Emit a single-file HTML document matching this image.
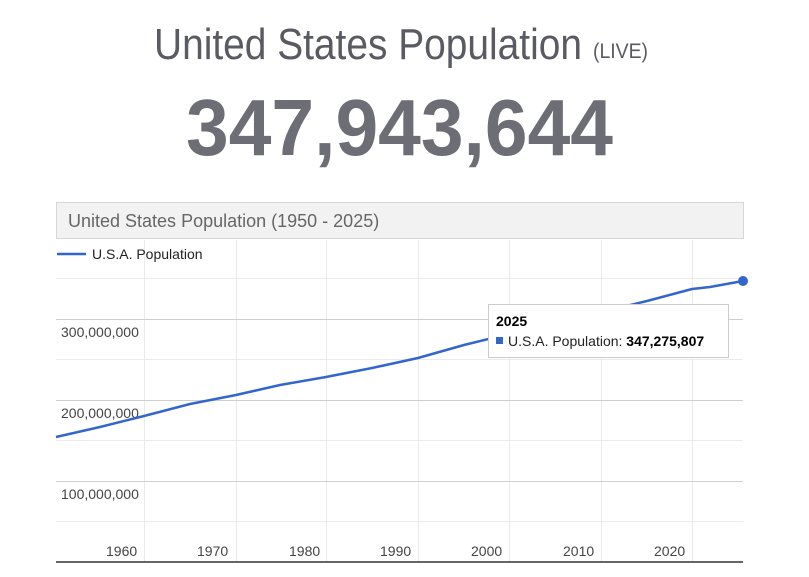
<!DOCTYPE html>
<html><head><style>html,body{margin:0;padding:0;background:#fff;}svg{display:block;}</style></head>
<body>
<svg width="809" height="577" xmlns="http://www.w3.org/2000/svg" font-family="Liberation Sans, sans-serif">
<text x="154" y="59" font-size="44" fill="#5a5a62" textLength="428" lengthAdjust="spacingAndGlyphs">United States Population</text>
<text x="593" y="58" font-size="21" fill="#5a5a62" textLength="55" lengthAdjust="spacingAndGlyphs">(LIVE)</text>
<text x="186" y="155" font-size="80" font-weight="bold" fill="#6d6d75" textLength="427" lengthAdjust="spacingAndGlyphs">347,943,644</text>
<rect x="56.5" y="202.5" width="687" height="36" fill="#f2f2f2" stroke="#d6d6d6"/>
<text x="68" y="227" font-size="18" fill="#666">United States Population (1950 - 2025)</text>
<g stroke="#ebebeb" stroke-width="1">
<line x1="144.5" y1="240" x2="144.5" y2="562"/><line x1="236.5" y1="240" x2="236.5" y2="562"/><line x1="326.5" y1="240" x2="326.5" y2="562"/><line x1="418.5" y1="240" x2="418.5" y2="562"/><line x1="509.5" y1="240" x2="509.5" y2="562"/><line x1="601.5" y1="240" x2="601.5" y2="562"/><line x1="692.5" y1="240" x2="692.5" y2="562"/>
<line x1="56" y1="278.5" x2="743" y2="278.5"/><line x1="56" y1="359.5" x2="743" y2="359.5"/><line x1="56" y1="440.5" x2="743" y2="440.5"/><line x1="56" y1="521.5" x2="743" y2="521.5"/>
</g>
<g stroke="#cfcfcf"><line x1="56" y1="319.5" x2="743" y2="319.5"/><line x1="56" y1="400.5" x2="743" y2="400.5"/><line x1="56" y1="481.5" x2="743" y2="481.5"/></g>
<line x1="56" y1="562" x2="743" y2="562" stroke="#333" stroke-width="1.5"/>
<g font-size="14" fill="#444">
<text x="61" y="337">300,000,000</text><text x="61" y="418">200,000,000</text><text x="61" y="499">100,000,000</text>
<text x="106" y="556">1960</text><text x="197" y="556">1970</text><text x="289" y="556">1980</text><text x="380" y="556">1990</text><text x="471" y="556">2000</text><text x="563" y="556">2010</text><text x="654" y="556">2020</text>
</g>
<line x1="57" y1="254" x2="86" y2="254" stroke="#3366cc" stroke-width="2.5"/>
<text x="92" y="259" font-size="14" fill="#222">U.S.A. Population</text>
<polyline fill="none" stroke="#3366cc" stroke-width="2.5" points="56,437 100,427 144,416 190,404 236,395 280,385 326,377 372,368 418,358 464,345 509,334 555,322 601,312 647,301 692,289 710,287 743,281"/>
<circle cx="743" cy="281" r="5" fill="#3366cc"/>
<rect x="488.5" y="304.5" width="240" height="53" fill="#fff" stroke="#ccc"/>
<text x="496" y="326" font-size="14" font-weight="bold" fill="#000">2025</text>
<rect x="496" y="337" width="7" height="7" fill="#3366cc"/>
<text x="508" y="346" font-size="14" fill="#222">U.S.A. Population: <tspan font-weight="bold" fill="#000">347,275,807</tspan></text>
</svg>
</body></html>
